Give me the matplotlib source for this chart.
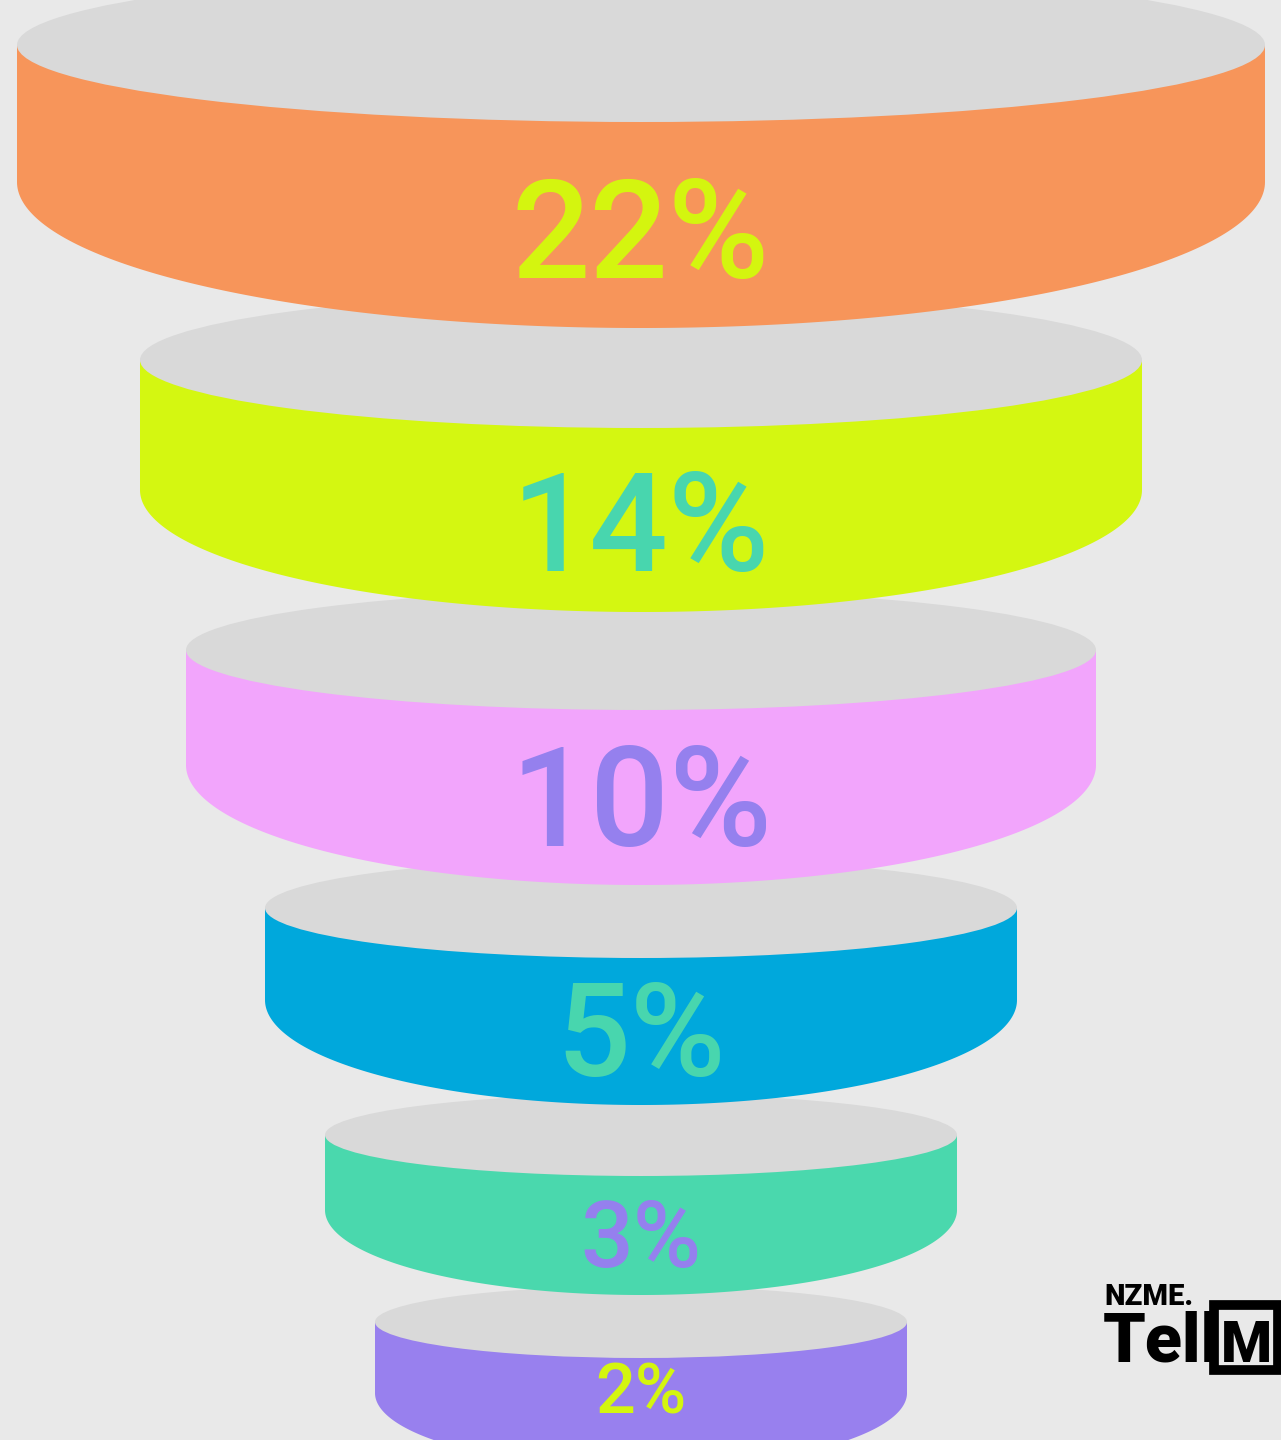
import matplotlib
matplotlib.use("Agg")
import matplotlib.pyplot as plt
from matplotlib.patches import Ellipse, Rectangle, Polygon
import numpy as np

# Funnel stages, top to bottom
labels = ["22%", "14%", "10%", "5%", "3%", "2%"]
values = [22, 14, 10, 5, 3, 2]

# Colours of each stage's band and its label
band_colors = ["#f7955a", "#d4f711", "#f2a5fc", "#00a8dc", "#4ad8ad", "#9880ee"]
text_colors = ["#d4f50f", "#48d6ae", "#9580ee", "#48d6ae", "#9580ee", "#d4f50f"]

# Disk geometry in pixels: half width, top-rim centre, top-rim half height,
# end of straight side, bottom-rim half height
half_w = [624, 501, 455, 376, 316, 266]
rim_y = [45, 360, 650, 908, 1135, 1322]
rim_b = [77, 68, 60, 50, 41, 36]
side_end = [182, 490, 765, 1000, 1210, 1393]
base_b = [146, 122, 120, 105, 85, 75]
label_base = [278, 571, 846, 1076, 1267, 1414]
label_px = [138, 138, 140, 130, 93, 70]

W, H = 1281, 1440
CX = 641
BG = "#e9e9e9"
TOP = "#d9d9d9"

fig = plt.figure(figsize=(W / 100, H / 100), dpi=100, facecolor=BG)
ax = fig.add_axes([0, 0, 1, 1])
ax.set_xlim(0, W)
ax.set_ylim(H, 0)
ax.axis("off")
ax.set_facecolor(BG)

n = len(values)
for i in range(n):
    z = (n - i) * 3
    a = half_w[i]
    # coloured side: rectangle plus lower half of the base ellipse
    t = np.linspace(0, np.pi, 200)
    arc = np.column_stack([CX + a * np.cos(t), side_end[i] + base_b[i] * np.sin(t)])
    pts = np.vstack([[CX + a, rim_y[i]], arc, [CX - a, rim_y[i]]])
    ax.add_patch(Polygon(pts, closed=True, facecolor=band_colors[i],
                         edgecolor="none", zorder=z))
    # grey top rim
    ax.add_patch(Ellipse((CX, rim_y[i]), 2 * a, 2 * rim_b[i], facecolor=TOP,
                         edgecolor="none", zorder=z + 1))
    ax.text(CX, label_base[i], labels[i], ha="center", va="baseline",
            fontsize=label_px[i] * 0.72, family="Roboto", fontweight="medium",
            color=text_colors[i], zorder=z + 2)

# Brand mark
ax.text(1104, 1305, "NZME.", fontsize=21, family="Roboto", fontweight="black",
        color="black", ha="left", va="baseline", zorder=50)
ax.text(1103, 1362, "Tell", fontsize=49, family="Roboto", fontweight="black",
        color="black", ha="left", va="baseline", zorder=50)
ax.add_patch(Rectangle((1214, 1305), 64, 65, facecolor="none", edgecolor="black",
                       linewidth=7, zorder=50))
ax.text(1246, 1362, "M", fontsize=42, family="Roboto", fontweight="black",
        color="black", ha="center", va="baseline", zorder=50)

fig.savefig("out.png", dpi=100, facecolor=BG)
